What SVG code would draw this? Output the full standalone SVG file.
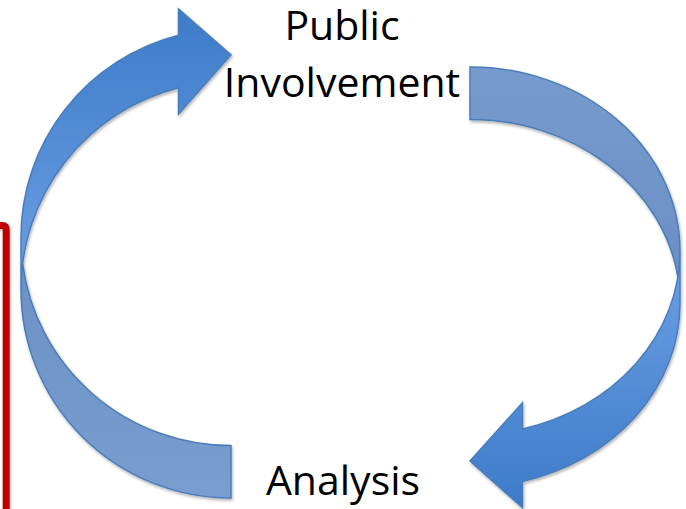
<svg xmlns="http://www.w3.org/2000/svg" width="686" height="509" viewBox="0 0 686 509">
  <defs>
    <style>
      .label { font-family: "Open Sans", "Liberation Sans", sans-serif; font-size: 41px; fill: #000000; text-anchor: middle; }
      .edge { stroke: #4A7DBA; stroke-width: 1.5; stroke-linejoin: miter; fill: none; }
      .band-l { fill: url(#bandLeft); }
      .band-r { fill: url(#bandRight); }
    </style>
    <!-- front part of each curved arrow: light near the turn, deeper at the head -->
    <linearGradient id="frontUp" x1="0" y1="1" x2="0" y2="0">
      <stop offset="0" stop-color="#6DA0E4"/>
      <stop offset="1" stop-color="#3D7BC9"/>
    </linearGradient>
    <linearGradient id="frontDown" x1="0" y1="0" x2="0" y2="1">
      <stop offset="0" stop-color="#6DA0E4"/>
      <stop offset="1" stop-color="#3D7BC9"/>
    </linearGradient>
    <!-- back band of each curved arrow, slightly darker -->
    <linearGradient id="bandLeft" x1="0" y1="0" x2="0" y2="1">
      <stop offset="0" stop-color="#6B91C6"/>
      <stop offset="1" stop-color="#7A9DCF"/>
    </linearGradient>
    <linearGradient id="bandRight" x1="0" y1="1" x2="0" y2="0">
      <stop offset="0" stop-color="#6B8FC5"/>
      <stop offset="1" stop-color="#789BCD"/>
    </linearGradient>
    <filter id="shade" x="-10%" y="-10%" width="120%" height="120%">
      <feDropShadow dx="1" dy="2" stdDeviation="1.8" flood-color="#000000" flood-opacity="0.3"/>
    </filter>
    <filter id="shadeLine" filterUnits="userSpaceOnUse" x="-20" y="200" width="60" height="330">
      <feDropShadow dx="1" dy="1.5" stdDeviation="1.5" flood-color="#000000" flood-opacity="0.3"/>
    </filter>
  </defs>

  <rect width="686" height="509" fill="#FFFFFF"/>

  <!-- red bracket at the left edge -->
  <path d="M -10 225.5 L 2 225.5 Q 6.2 225.5 6.2 229.5 L 6.2 520" fill="none" stroke="#C00000" stroke-width="7" stroke-linejoin="round" filter="url(#shadeLine)"/>

  <!-- curved arrows of the cycle -->
  <g id="connectors">
    <g id="arrow-analysis-to-public" filter="url(#shade)">
      <path fill="url(#frontUp)" d="M 21 289.58 A 210 208.43 0 0 1 178.5 87.76 L 178.5 114 L 231 54.9 L 178.5 9.02 L 178.5 35.27 A 210 208.43 0 0 0 21 237.08 Z"/>
      <path class="band-l" d="M 231 445.5 A 210 208.43 0 0 1 22.67 263.3 A 210 208.43 0 0 0 231 498 Z"/>
      <path class="edge" d="M 21 289.58 A 210 208.43 0 0 1 178.5 87.76 L 178.5 114 L 231 54.9 L 178.5 9.02 L 178.5 35.27 A 210 208.43 0 0 0 21 237.08 L 21 289.58 A 210 208.43 0 0 0 231 498 L 231 445.5 A 210 208.43 0 0 1 22.67 263.3"/>
    </g>
    <g id="arrow-public-to-analysis" filter="url(#shade)">
      <path fill="url(#frontDown)" d="M 680 250.88 A 210 183.88 0 0 1 522.5 428.9 L 522.5 402.65 L 470 461 L 522.5 507.65 L 522.5 481.4 A 210 183.88 0 0 0 680 303.38 Z"/>
      <path class="band-r" d="M 470 119.5 A 210 183.88 0 0 1 677.85 277.1 A 210 183.88 0 0 0 470 67 Z"/>
      <path class="edge" d="M 680 250.88 A 210 183.88 0 0 1 522.5 428.9 L 522.5 402.65 L 470 461 L 522.5 507.65 L 522.5 481.4 A 210 183.88 0 0 0 680 303.38 L 680 250.88 A 210 183.88 0 0 0 470 67 L 470 119.5 A 210 183.88 0 0 1 677.85 277.1"/>
    </g>
  </g>

  <!-- cycle stages -->
  <g id="node-public-involvement">
    <text class="label" x="342" y="40">Public</text>
    <text class="label" x="342" y="97">Involvement</text>
  </g>
  <g id="node-analysis">
    <text class="label" x="343" y="495">Analysis</text>
  </g>
</svg>
